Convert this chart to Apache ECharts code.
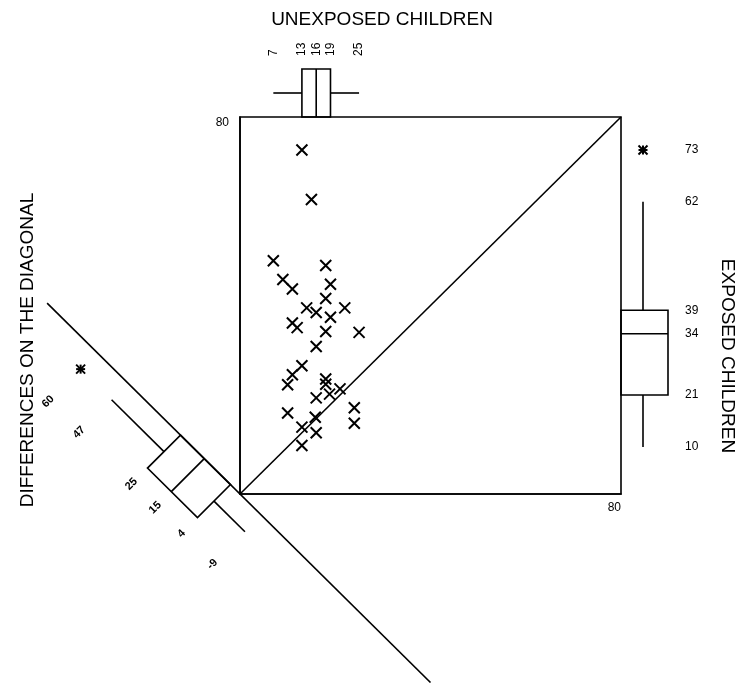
<!DOCTYPE html>
<html>
<head>
<meta charset="utf-8">
<script src="https://cdn.jsdelivr.net/npm/echarts@6/dist/echarts.min.js"></script>
<style>
  html, body { margin: 0; padding: 0; background: #fff; }
  #chart { width: 737px; height: 683px; }
</style>
</head>
<body>
<div id="chart"></div>
<script>
// lead levels, one pair per child (unexposed control, exposed child)
const unexposed = [13, 15, 7, 18, 9, 11, 19, 18, 14, 16, 22, 19, 11, 12, 18, 25,
  16, 13, 11, 10, 18, 18, 18.8, 21, 16, 10, 15.8, 13, 16, 13, 24, 24]
const exposed = [73, 62.5, 49.5, 48.5, 45.5, 43.5, 44.5, 41.5, 39.5, 38.5, 39.5, 37.5, 36.3, 35.3, 34.5, 34.3,
  31.3, 27.2, 25.3, 23.2, 24.4, 23.3, 21.2, 22.3, 20.4, 17.2, 16.3, 14.2, 13, 10.3, 18.3, 15]

// box plot summaries: [low whisker, Q1, median, Q3, high whisker]
const unexposedBox = [7, 13, 16, 19, 25]
const exposedBox = [10, 21, 34, 39, 62]
const exposedOutliers = [73]
const diffBox = [-9, 4, 15, 25, 47]
const diffOutliers = [60]

const axisMax = 80
const diffAxis = [-80, 81]

const FONT = 'Liberation Sans, Arial, sans-serif'
const LW = 1.6
const ink = { stroke: '#000', lineWidth: LW, fill: 'none' }

const seg = (a, b, lw) => ({
  type: 'line',
  shape: { x1: a[0], y1: a[1], x2: b[0], y2: b[1] },
  style: { stroke: '#000', lineWidth: lw || LW }
})

const star = (c) => {
  const r = 4.5
  return {
    type: 'group',
    children: [
      seg([c[0] - r, c[1] - r], [c[0] + r, c[1] + r], 2),
      seg([c[0] - r, c[1] + r], [c[0] + r, c[1] - r], 2),
      seg([c[0] - r, c[1]], [c[0] + r, c[1]], 2),
      seg([c[0], c[1] - r], [c[0], c[1] + r], 2)
    ]
  }
}

const label = (x, y, text, rotation, align, size, weight) => ({
  type: 'text',
  x: x, y: y,
  rotation: rotation,
  style: {
    text: String(text),
    fill: '#000',
    font: (weight || 'normal') + ' ' + size + 'px ' + FONT,
    align: align,
    verticalAlign: 'middle'
  }
})

// unexposed box plot sits on top of the square
const renderTop = (params, api) => {
  const top = api.coord([0, axisMax])[1]
  const px = v => api.coord([v, axisMax])[0]
  const [lo, q1, med, q3, hi] = unexposedBox.map(px)
  const h = 48, mid = top - 24
  const children = [
    seg([lo, mid], [q1, mid]),
    { type: 'rect', shape: { x: q1, y: top - h, width: q3 - q1, height: h }, style: ink },
    seg([med, top - h], [med, top]),
    seg([q3, mid], [hi, mid])
  ]
  unexposedBox.forEach(v => children.push(label(px(v), 56, v, Math.PI / 2, 'left', 12)))
  return { type: 'group', children }
}

// exposed box plot on the right of the square
const renderRight = (params, api) => {
  const right = api.coord([axisMax, 0])[0]
  const py = v => api.coord([axisMax, v])[1]
  const [lo, q1, med, q3, hi] = exposedBox.map(py)
  const w = 47, mid = right + 22
  const children = [
    seg([mid, lo], [mid, q1]),
    { type: 'rect', shape: { x: right, y: q3, width: w, height: q1 - q3 }, style: ink },
    seg([right, med], [right + w, med]),
    seg([mid, q3], [mid, hi])
  ]
  exposedOutliers.forEach(v => children.push(star([mid, py(v)])))
  exposedBox.concat(exposedOutliers).forEach(v => children.push(label(685, py(v), v, 0, 'left', 12)))
  return { type: 'group', children }
}

// differences (exposed - unexposed) projected on the anti-diagonal
const renderDiff = (params, api) => {
  const p = d => api.coord([-d / 2, d / 2])
  const off = (pt, k) => [pt[0] - k, pt[1] + k]
  const [lo, q1, med, q3, hi] = diffBox
  const B = 33, W = 16.5, L = 49
  const a = p(q3), b = p(q1)
  const children = [
    seg(p(diffAxis[1]), p(diffAxis[0])),
    { type: 'polygon', shape: { points: [a, b, off(b, B), off(a, B)] }, style: ink },
    seg(p(med), off(p(med), B)),
    seg(off(p(q3), W), off(p(hi), W)),
    seg(off(p(q1), W), off(p(lo), W))
  ]
  diffOutliers.forEach(d => children.push(star(off(p(d), W))))
  diffBox.concat(diffOutliers).forEach(d => {
    const c = off(p(d), L)
    children.push(label(c[0], c[1], d, Math.PI / 4, 'center', 11, 'bold'))
  })
  return { type: 'group', children }
}

const chart = echarts.init(document.getElementById('chart'), null, { renderer: 'canvas' })

const axisCommon = {
  type: 'value',
  min: 0,
  max: axisMax,
  interval: axisMax,
  axisLine: { show: true, lineStyle: { color: '#000', width: LW } },
  axisTick: { show: false },
  splitLine: { show: false }
}

chart.setOption({
  backgroundColor: '#fff',
  animation: false,
  grid: {
    left: 240, top: 117, width: 381, height: 377,
    show: true, borderColor: '#000', borderWidth: LW, backgroundColor: 'transparent'
  },
  xAxis: Object.assign({}, axisCommon, {
    axisLabel: {
      formatter: v => (v === axisMax ? String(v) : ''),
      color: '#000', fontFamily: FONT, fontSize: 12, align: 'right', margin: 8
    }
  }),
  yAxis: Object.assign({}, axisCommon, {
    axisLabel: {
      formatter: v => (v === axisMax ? String(v) : ''),
      color: '#000', fontFamily: FONT, fontSize: 12, verticalAlign: 'top', margin: 11
    }
  }),
  graphic: [
    { type: 'text', x: 382, y: 20, style: { text: 'UNEXPOSED CHILDREN', font: '19px ' + FONT, fill: '#000', align: 'center', verticalAlign: 'middle' } },
    { type: 'text', x: 727, y: 356, rotation: -Math.PI / 2, style: { text: 'EXPOSED CHILDREN', font: '19px ' + FONT, fill: '#000', align: 'center', verticalAlign: 'middle' } },
    { type: 'text', x: 28, y: 350, rotation: Math.PI / 2, style: { text: 'DIFFERENCES ON THE DIAGONAL', font: '19px ' + FONT, fill: '#000', align: 'center', verticalAlign: 'middle' } }
  ],
  series: [
    {
      type: 'line',
      data: [[0, 0], [axisMax, axisMax]],
      symbol: 'none',
      lineStyle: { color: '#000', width: LW },
      silent: true
    },
    {
      type: 'scatter',
      data: unexposed.map((u, i) => [u, exposed[i]]),
      symbol: 'path://M0 0L10 10M10 0L0 10',
      symbolSize: 11,
      itemStyle: { color: 'transparent', borderColor: '#000', borderWidth: 2, opacity: 1 }
    },
    { type: 'custom', data: [[0, 0]], renderItem: renderTop, clip: false, silent: true },
    { type: 'custom', data: [[0, 0]], renderItem: renderRight, clip: false, silent: true },
    { type: 'custom', data: [[0, 0]], renderItem: renderDiff, clip: false, silent: true }
  ]
})

window.addEventListener('resize', () => chart.resize())
</script>
</body>
</html>
